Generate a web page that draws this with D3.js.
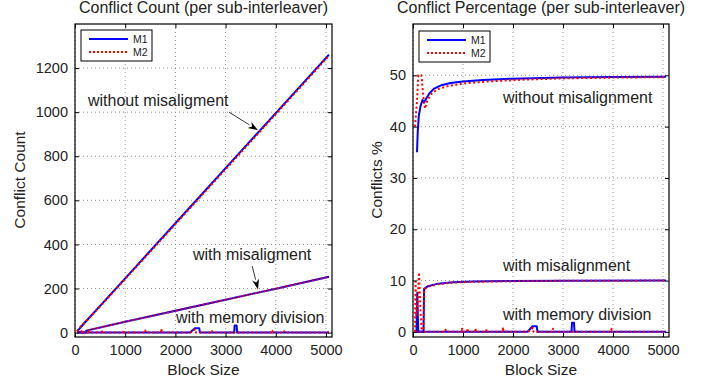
<!DOCTYPE html>
<html>
<head>
<meta charset="utf-8">
<script src="https://cdn.jsdelivr.net/npm/d3@7"></script>
<style>
  body { margin: 0; background: #fff; }
  svg { display: block; font-family: "Liberation Sans", Arial, sans-serif; }
</style>
</head>
<body>
<svg width="713" height="383"></svg>
<script>
// ---- data ----
let blockTicks = [0, 1000, 2000, 3000, 4000, 5000];
let countTicks = [0, 200, 400, 600, 800, 1000, 1200];
let pctTicks = [0, 10, 20, 30, 40, 50];

// Conflict count, [block size, count]
let countNoMisM1 = [[40,5],[100,20],[200,47],[500,121],[1000,246],[2000,496],[3000,746],[4000,996],[5060,1261]];
let countNoMisM2 = [[40,8],[120,30],[200,46],[500,119],[1000,243],[2000,492],[3000,741],[4000,991],[5060,1256]];
let countMisM1 = [[40,0],[70,0],[85,3],[110,0],[210,0],[225,9],[500,23],[1000,49],[2000,99],[3000,149],[4000,199],[5060,253]];
let countMisM2 = [[40,0],[50,2],[70,1],[95,3],[120,7],[150,3],[175,0],[215,0],[228,9],[500,23],[1000,49],[2000,99],[3000,149],[4000,199],[5060,253]];
let countDivM1 = [[40,0],[2290,0],[2390,20],[2475,20],[2490,0],[3170,0],[3180,32],[3220,32],[3230,0],[5060,0]];
let countDivM2 = [[40,0],[140,0],[150,10],[160,0],[265,0],[270,12],[280,0],[530,0],[535,12],[545,0],[960,0],[967,10],[975,0],
  [1160,0],[1167,10],[1175,0],[1395,0],[1400,10],[1410,0],[1715,0],[1720,18],[1730,0],[2290,0],[2400,16],[2410,0],
  [2725,0],[2733,6],[2740,0],[3925,0],[3933,8],[3940,0],[4160,0],[4167,6],[4175,0],[5060,0]];

// Conflict percentage, [block size, %]
let pctNoMisM1 = [[80,35],[95,39],[115,42],[150,44],[190,45.2],[220,44.7],[260,45.4],[330,46.5],[420,47.4],[550,48],[750,48.5],[1000,48.8],[1400,49.1],[2000,49.35],[3000,49.55],[4000,49.65],[5060,49.7]];
let pctNoMisM2 = [[40,40],[80,45],[105,50],[170,50],[205,46],[240,43.5],[290,45.2],[380,46.5],[500,47.3],[700,47.9],[1000,48.4],[1500,48.8],[2200,49.15],[3000,49.4],[4000,49.55],[5060,49.65]];
let pctMisM1 = [[40,0],[70,0],[85,7.6],[105,0],[210,0],[222,8.4],[300,8.9],[500,9.4],[800,9.65],[1200,9.8],[2000,9.9],[3000,9.95],[5060,10]];
let pctMisM2 = [[40,0],[50,9.8],[65,3],[95,6],[120,11.6],[150,4],[175,0],[212,0],[226,8.3],[300,8.8],[500,9.3],[800,9.6],[1200,9.75],[2000,9.88],[3000,9.95],[5060,10]];
let pctDivM1 = [[40,0],[2290,0],[2390,1.1],[2475,1.1],[2490,0],[3170,0],[3180,1.8],[3220,1.8],[3230,0],[5060,0]];
let pctDivM2 = [[40,0],[640,0],[650,0.4],[660,0],[970,0],[980,0.8],[990,0],[1080,0],[1090,0.7],[1100,0],[1240,0],[1250,0.7],[1260,0],
  [1460,0],[1470,0.5],[1480,0],[1790,0],[1800,0.9],[1810,0],[2290,0],[2400,0.8],[2410,0],[2790,0],[2800,0.6],[2810,0],
  [3960,0],[3970,0.6],[3980,0],[5060,0]];

const svg = d3.select('svg');

function drawPanel(p) {
  let x = d3.scaleLinear().domain([0, 5120]).range([p.left, p.right]);
  let y = d3.scaleLinear().domain(p.yDomain).range([337, 24]);
  let g = svg.append('g');

  g.append('clipPath').attr('id', p.id + '-clip')
    .append('rect')
    .attr('x', p.left).attr('y', 24)
    .attr('width', p.right - p.left).attr('height', 313);

  // grid
  g.selectAll('.vgrid').data(blockTicks).enter().append('line')
    .attr('x1', d => x(d)).attr('x2', d => x(d))
    .attr('y1', 24).attr('y2', 337)
    .attr('stroke', '#777').attr('stroke-width', 0.8).attr('stroke-dasharray', '1,3');
  g.selectAll('.hgrid').data(p.yTicks).enter().append('line')
    .attr('x1', p.left).attr('x2', p.right)
    .attr('y1', d => y(d)).attr('y2', d => y(d))
    .attr('stroke', '#777').attr('stroke-width', 0.8).attr('stroke-dasharray', '1,3');

  let line = d3.line().x(d => x(d[0])).y(d => y(d[1]));
  let plot = g.append('g').attr('clip-path', `url(#${p.id}-clip)`);
  p.series.forEach(s => {
    plot.append('path')
      .datum(s.data)
      .attr('fill', 'none')
      .attr('stroke', s.m2 ? '#ff0000' : '#0000ff')
      .attr('stroke-width', 2)
      .attr('stroke-linejoin', 'round')
      .attr('stroke-dasharray', s.m2 ? '2,2.5' : null)
      .attr('d', line);
  });

  // axes: ticks inward on all four sides
  let fmt = d3.format('d');
  let xAxis = d3.axisBottom(x).tickValues(blockTicks).tickFormat(fmt).tickSizeInner(-4).tickSizeOuter(0).tickPadding(8);
  let yAxis = d3.axisLeft(y).tickValues(p.yTicks).tickFormat(fmt).tickSizeInner(-4).tickSizeOuter(0).tickPadding(7);
  g.append('g').attr('transform', 'translate(0,337)').call(xAxis);
  g.append('g').attr('transform', `translate(${p.left},0)`).call(yAxis);
  g.append('g').attr('transform', 'translate(0,24)')
    .call(d3.axisTop(x).tickValues(blockTicks).tickSizeInner(-4).tickSizeOuter(0).tickFormat(''));
  g.append('g').attr('transform', `translate(${p.right},0)`)
    .call(d3.axisRight(y).tickValues(p.yTicks).tickSizeInner(-4).tickSizeOuter(0).tickFormat(''));
  g.selectAll('.domain').remove();
  g.selectAll('.tick line').attr('stroke', '#000');
  g.selectAll('.tick text').attr('font-size', 14.5).attr('fill', '#222')
    .attr('font-family', '"Liberation Sans", Arial, sans-serif');

  g.append('rect')
    .attr('x', p.left).attr('y', 24)
    .attr('width', p.right - p.left).attr('height', 313)
    .attr('fill', 'none').attr('stroke', '#000').attr('stroke-width', 1.2);

  // title and axis labels
  let cx = (p.left + p.right) / 2;
  g.append('text').text(p.title)
    .attr('x', cx).attr('y', 13).attr('text-anchor', 'middle')
    .attr('font-size', 16).attr('fill', '#222');
  g.append('text').text('Block Size')
    .attr('x', cx).attr('y', 375).attr('text-anchor', 'middle')
    .attr('font-size', 15.5).attr('fill', '#222');
  g.append('text').text(p.yLabel)
    .attr('transform', `translate(${p.yLabelX},180) rotate(-90)`)
    .attr('text-anchor', 'middle')
    .attr('font-size', 15.5).attr('fill', '#222');

  // annotations
  p.notes.forEach(n => {
    g.append('text').text(n.text)
      .attr('x', x(n.at[0])).attr('y', y(n.at[1]))
      .attr('font-size', 16).attr('fill', '#222');
    if (n.arrow) {
      let x1 = x(n.arrow[0][0]), y1 = y(n.arrow[0][1]);
      let x2 = x(n.arrow[1][0]), y2 = y(n.arrow[1][1]);
      let ang = Math.atan2(y2 - y1, x2 - x1);
      let len = 10, wid = 3.5;
      let bx = x2 - len * Math.cos(ang), by = y2 - len * Math.sin(ang);
      let px = -Math.sin(ang) * wid, py = Math.cos(ang) * wid;
      g.append('line')
        .attr('x1', x1).attr('y1', y1).attr('x2', bx).attr('y2', by)
        .attr('stroke', '#000').attr('stroke-width', 0.8);
      g.append('path')
        .attr('d', `M${x2},${y2}L${bx + px},${by + py}L${x2 - 0.7 * len * Math.cos(ang)},${y2 - 0.7 * len * Math.sin(ang)}L${bx - px},${by - py}Z`)
        .attr('fill', '#000');
    }
  });

  // legend
  let lg = g.append('g').attr('transform', `translate(${p.legend[0]},${p.legend[1]})`);
  lg.append('rect').attr('width', 71).attr('height', 31)
    .attr('fill', '#fff').attr('stroke', '#000').attr('stroke-width', 1);
  [['M1', false, 9], ['M2', true, 22]].forEach(([name, m2, ly]) => {
    lg.append('line')
      .attr('x1', 8).attr('x2', 47).attr('y1', ly).attr('y2', ly)
      .attr('stroke', m2 ? '#ff0000' : '#0000ff').attr('stroke-width', 2)
      .attr('stroke-dasharray', m2 ? '2,2' : null);
    lg.append('text').text(name)
      .attr('x', 52).attr('y', ly + 3.5)
      .attr('font-size', 10.5).attr('fill', '#222');
  });
}

drawPanel({
  id: 'count', left: 75, right: 332,
  yDomain: [-20, 1400], yTicks: countTicks,
  title: 'Conflict Count (per sub-interleaver)', yLabel: 'Conflict Count', yLabelX: 25,
  legend: [81, 30],
  series: [
    { data: countNoMisM1 }, { data: countNoMisM2, m2: true },
    { data: countMisM1 }, { data: countMisM2, m2: true },
    { data: countDivM1 }, { data: countDivM2, m2: true }
  ],
  notes: [
    { text: 'without misaligment', at: [259, 1028], arrow: [[3070, 1000], [3646, 918]] },
    { text: 'with misaligment', at: [2351, 329], arrow: [[3530, 302], [3646, 196]] },
    { text: 'with memory division', at: [2012, 44] }
  ]
});

drawPanel({
  id: 'pct', left: 413, right: 669,
  yDomain: [-1, 60], yTicks: pctTicks,
  title: 'Conflict Percentage (per sub-interleaver)', yLabel: 'Conflicts %', yLabelX: 382,
  legend: [419, 31],
  series: [
    { data: pctNoMisM1 }, { data: pctNoMisM2, m2: true },
    { data: pctMisM1 }, { data: pctMisM2, m2: true },
    { data: pctDivM1 }, { data: pctDivM2, m2: true }
  ],
  notes: [
    { text: 'without misalignment', at: [1800, 44.6] },
    { text: 'with misalignment', at: [1800, 11.9] },
    { text: 'with memory division', at: [1800, 2.3] }
  ]
});
</script>
</body>
</html>
